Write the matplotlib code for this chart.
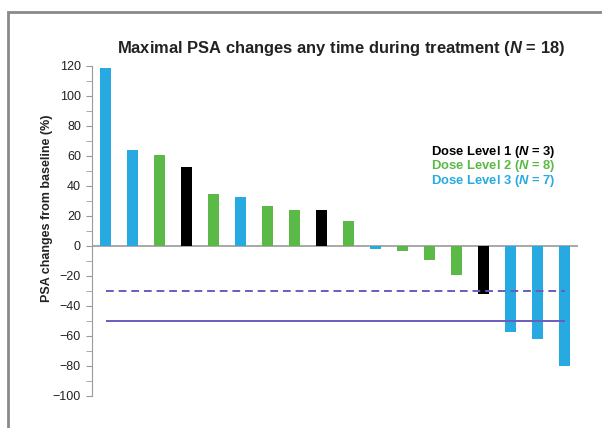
import matplotlib
matplotlib.use("Agg")
import matplotlib.pyplot as plt
from matplotlib.patches import Rectangle

# maximal PSA change per patient, waterfall order
psa_change = [119, 64, 61, 53, 35, 33, 27, 24, 24, 17, -2, -3, -9, -19, -32, -57, -62, -80]
dose_level = [3, 3, 2, 1, 2, 3, 2, 2, 1, 2, 3, 2, 2, 2, 1, 3, 3, 3]
level_colors = {1: "#000000", 2: "#5bb947", 3: "#27aae1"}
level_labels = ["Dose Level 1 ($\\mathbfit{N}$ = 3)", "Dose Level 2 ($\\mathbfit{N}$ = 8)",
                "Dose Level 3 ($\\mathbfit{N}$ = 7)"]
yticks = list(range(-100, 121, 20))
thresholds = [-30, -50]

plt.rcParams['font.family'] = ['Liberation Sans', 'DejaVu Sans']
plt.rcParams['mathtext.fontset'] = 'custom'
plt.rcParams['mathtext.bfit'] = 'Liberation Sans:bold:italic'

fig = plt.figure(figsize=(6.02, 4.28), dpi=100)
fig.patches.append(Rectangle((8 / 602, -0.1), 1.2, 1 - 12 / 428 + 0.1, transform=fig.transFigure,
                             fill=False, edgecolor="#8a8a8a", linewidth=2))

ax = fig.add_axes([92 / 602, 1 - 396 / 428, (578 - 92) / 602, (396 - 66) / 428])
x = list(range(len(psa_change)))
ax.bar(x, psa_change, width=0.42, color=[level_colors[d] for d in dose_level], zorder=2)
ax.axhline(0, color="#9a9a9a", linewidth=1.2, zorder=1)
ax.hlines(thresholds[0], 0, 17, colors="#6a5cc0", linestyles=(0, (4, 2.5)), linewidth=1.4, zorder=3)
ax.hlines(thresholds[1], 0, 17, colors="#6a5cc0", linewidth=1.4, zorder=3)

ax.set_xlim(-0.5, 17.5)
ax.set_ylim(-100, 120)
ax.set_yticks(yticks)
ax.set_yticklabels([str(t).replace("-", "\u2212") for t in yticks], fontsize=9, color="#222222")
ax.set_yticks(range(-90, 120, 20), minor=True)
ax.tick_params(axis="y", which="both", length=4, color="#9a9a9a", direction="out", pad=4)
ax.set_xticks([])
for s in ["top", "right", "bottom"]:
    ax.spines[s].set_visible(False)
ax.spines["left"].set_color("#9a9a9a")

fig.text(47 / 602, 1 - 208 / 428, "PSA changes from baseline (%)", rotation=90,
         ha="center", va="center", fontsize=9, fontweight="bold", color="#222222")
fig.text(341 / 602, 1 - 48 / 428, "Maximal PSA changes any time during treatment ($\\mathbfit{N}$ = 18)",
         ha="center", va="center", fontsize=11.9, fontweight="bold", color="#222222")
for i, lab in enumerate(level_labels):
    fig.text(555 / 602, 1 - (152 + 14.5 * i) / 428, lab, ha="right", va="center",
             fontsize=9.4, fontweight="bold", color=level_colors[i + 1])

fig.savefig("out.png", dpi=100)
